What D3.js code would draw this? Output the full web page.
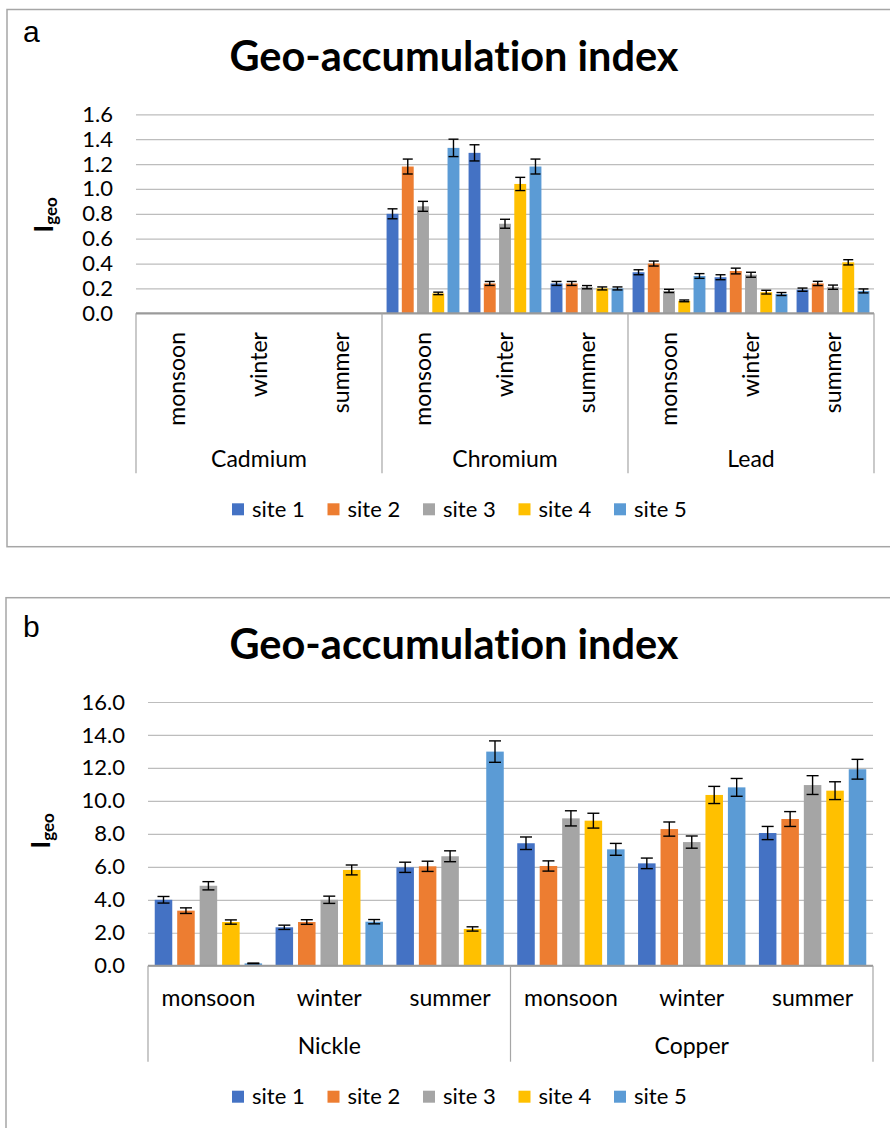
<!DOCTYPE html>
<html>
<head>
<meta charset="utf-8">
<script src="https://cdn.jsdelivr.net/npm/d3@7"></script>
<style>
  html, body { margin: 0; padding: 0; background: #fff; }
  svg { display: block; font-family: Lato, "Open Sans", sans-serif; font-variant-ligatures: none; font-feature-settings: "liga" 0, "clig" 0; }
</style>
</head>
<body>
<svg id="chart" width="890" height="1128"></svg>
<script>
// ---------------- DATA ----------------
const seasons = ["monsoon", "winter", "summer"];
const sites = ["site 1", "site 2", "site 3", "site 4", "site 5"];
const siteColors = ["#4472C4", "#ED7D31", "#A5A5A5", "#FFC000", "#5B9BD5"];

const metalsA = ["Cadmium", "Chromium", "Lead"];
const metalsB = ["Nickle", "Copper"];

// values[season][site]
const cadmium    = [[0, 0, 0, 0, 0], [0, 0, 0, 0, 0], [0, 0, 0, 0, 0]];
const cadmiumErr = [[0, 0, 0, 0, 0], [0, 0, 0, 0, 0], [0, 0, 0, 0, 0]];
const chromium    = [[0.80, 1.18, 0.86, 0.16, 1.33], [1.29, 0.24, 0.72, 1.04, 1.18], [0.24, 0.24, 0.21, 0.20, 0.20]];
const chromiumErr = [[0.04, 0.06, 0.04, 0.01, 0.07], [0.065, 0.016, 0.036, 0.053, 0.06], [0.016, 0.016, 0.013, 0.012, 0.012]];
const lead    = [[0.33, 0.40, 0.18, 0.10, 0.30], [0.29, 0.34, 0.31, 0.17, 0.155], [0.19, 0.24, 0.21, 0.41, 0.18]];
const leadErr = [[0.02, 0.02, 0.013, 0.007, 0.019], [0.02, 0.023, 0.02, 0.015, 0.012], [0.013, 0.017, 0.017, 0.021, 0.016]];
const nickle    = [[4.00, 3.34, 4.85, 2.65, 0.14], [2.33, 2.65, 4.00, 5.81, 2.67], [5.97, 6.03, 6.64, 2.23, 12.99]];
const nickleErr = [[0.20, 0.17, 0.25, 0.13, 0.02], [0.13, 0.14, 0.22, 0.30, 0.13], [0.31, 0.31, 0.33, 0.13, 0.65]];
const copper    = [[7.43, 6.05, 8.94, 8.80, 7.06], [6.21, 8.29, 7.50, 10.36, 10.82], [8.05, 8.90, 10.96, 10.62, 11.92]];
const copperErr = [[0.38, 0.31, 0.46, 0.45, 0.36], [0.32, 0.43, 0.37, 0.52, 0.54], [0.40, 0.45, 0.57, 0.54, 0.60]];

const yTicksA = [0, 0.2, 0.4, 0.6, 0.8, 1.0, 1.2, 1.4, 1.6];
const yTicksB = [0, 2, 4, 6, 8, 10, 12, 14, 16];

const titleText = "Geo-accumulation index";

// ---------------- DRAW ----------------
const svg = d3.select("#chart");

function buildRows(metals, vals, errs) {
  const rows = [];
  metals.forEach((m, mi) => {
    seasons.forEach((s, si) => {
      sites.forEach((st, ki) => {
        rows.push({ metal: m, season: s, site: st, k: ki, v: vals[mi][si][ki], e: errs[mi][si][ki] });
      });
    });
  });
  return rows;
}

function drawPanel(cfg) {
  const g = svg.append("g");

  // frame
  g.append("rect")
    .attr("x", cfg.frame.x).attr("y", cfg.frame.y)
    .attr("width", cfg.frame.w).attr("height", cfg.frame.h)
    .attr("fill", "none").attr("stroke", "#a6a6a6").attr("stroke-width", 1.5);

  // panel letter
  g.append("text").attr("x", 23).attr("y", cfg.letterY)
    .attr("font-family", "'Liberation Sans', Arial, sans-serif")
    .attr("font-size", 30).attr("fill", "#000").text(cfg.letter);

  // title
  g.append("text").attr("x", 454).attr("y", cfg.titleY)
    .attr("text-anchor", "middle").attr("font-size", 41.5).attr("font-weight", 700)
    .attr("fill", "#000").text(titleText);

  const y = d3.scaleLinear().domain([cfg.yTicks[0], cfg.yTicks[cfg.yTicks.length - 1]])
    .range([cfg.bottom, cfg.top]);
  const x0 = d3.scaleBand().domain(cfg.metals).range([cfg.left, cfg.right]).padding(0);
  const x1 = d3.scaleBand().domain(seasons).range([0, x0.bandwidth()]).padding(0);
  const x2 = d3.scaleBand().domain(sites).range([0, x1.bandwidth()])
    .paddingInner(0.22).paddingOuter(0.3);
  const color = d3.scaleOrdinal().domain(sites).range(siteColors);

  // gridlines
  const grid = g.append("g").attr("transform", `translate(${cfg.left},0)`)
    .call(d3.axisLeft(y).tickValues(cfg.yTicks).tickSize(-(cfg.right - cfg.left)).tickFormat(""));
  grid.select(".domain").remove();
  grid.selectAll("line").attr("stroke", "#bdbdbd").attr("stroke-width", 1.2);

  // tick labels
  const ax = g.append("g").attr("transform", `translate(${cfg.left},0)`)
    .call(d3.axisLeft(y).tickValues(cfg.yTicks).tickSize(0).tickPadding(cfg.tickPad)
      .tickFormat(d3.format(".1f")));
  ax.select(".domain").remove();
  ax.selectAll("text").attr("font-size", 22).attr("font-family", "Lato, sans-serif").attr("fill", "#000");

  // y title
  const yt = g.append("text")
    .attr("transform", `translate(${cfg.yLabelX},${cfg.yLabelY}) rotate(-90)`)
    .attr("text-anchor", "middle").attr("font-weight", 700).attr("fill", "#000");
  yt.append("tspan").attr("font-size", 27).text("I");
  yt.append("tspan").attr("font-size", 17).attr("dy", 4).text("geo");

  // bars
  const rows = buildRows(cfg.metals, cfg.vals, cfg.errs);
  const bx = d => x0(d.metal) + x1(d.season) + x2(d.site);
  g.append("g").selectAll("rect").data(rows.filter(d => d.v > 0)).join("rect")
    .attr("x", bx).attr("width", x2.bandwidth())
    .attr("y", d => y(d.v)).attr("height", d => y(0) - y(d.v))
    .attr("fill", d => color(d.site));

  // error bars
  const eb = g.append("g").selectAll("g").data(rows.filter(d => d.v > 0)).join("g")
    .attr("stroke", "#000").attr("stroke-width", 1.4);
  const cx = d => bx(d) + x2.bandwidth() / 2;
  eb.append("line").attr("x1", cx).attr("x2", cx)
    .attr("y1", d => y(d.v - d.e)).attr("y2", d => y(d.v + d.e));
  eb.append("line").attr("x1", d => cx(d) - cfg.cap).attr("x2", d => cx(d) + cfg.cap)
    .attr("y1", d => y(d.v + d.e)).attr("y2", d => y(d.v + d.e));
  eb.append("line").attr("x1", d => cx(d) - cfg.cap).attr("x2", d => cx(d) + cfg.cap)
    .attr("y1", d => y(d.v - d.e)).attr("y2", d => y(d.v - d.e));

  // category axis line
  g.append("line").attr("x1", cfg.left).attr("x2", cfg.right)
    .attr("y1", y(0)).attr("y2", y(0)).attr("stroke", "#9a9a9a").attr("stroke-width", 2);

  // group separators
  const seps = cfg.metals.map(m => x0(m)).concat([cfg.right]);
  g.append("g").selectAll("line").data(seps).join("line")
    .attr("x1", d => d).attr("x2", d => d)
    .attr("y1", y(0)).attr("y2", y(0) + cfg.catDepth)
    .attr("stroke", "#a6a6a6").attr("stroke-width", 1.2);

  // season labels
  const seasonRows = [];
  cfg.metals.forEach(m => seasons.forEach(s => seasonRows.push({ m, s })));
  const sl = g.append("g").selectAll("text").data(seasonRows).join("text")
    .attr("font-size", 23).attr("fill", "#000").text(d => d.s);
  if (cfg.rotateSeasons) {
    sl.attr("text-anchor", "end").attr("dy", "0.28em")
      .attr("transform", d => `translate(${x0(d.m) + x1(d.s) + x1.bandwidth() / 2 + 2},${cfg.seasonY}) rotate(-90)`);
  } else {
    sl.attr("text-anchor", "middle")
      .attr("x", d => x0(d.m) + x1(d.s) + x1.bandwidth() / 2).attr("y", cfg.seasonY);
  }

  // metal labels
  g.append("g").selectAll("text").data(cfg.metals).join("text")
    .attr("x", d => x0(d) + x0.bandwidth() / 2).attr("y", cfg.metalY)
    .attr("text-anchor", "middle").attr("font-size", 23).attr("fill", "#000").text(d => d);

  // legend
  const lg = g.append("g").selectAll("g").data(sites).join("g")
    .attr("transform", (d, i) => `translate(${232 + i * 95.5},${cfg.legendY})`);
  lg.append("rect").attr("x", 0).attr("y", -6).attr("width", 12).attr("height", 12)
    .attr("fill", d => color(d));
  lg.append("text").attr("x", 20).attr("y", 7.5).attr("font-size", 22).attr("fill", "#000").text(d => d);
}

drawPanel({
  frame: { x: 7, y: 9.5, w: 900, h: 537.2 },
  letter: "a", letterY: 42, titleY: 71,
  metals: metalsA, vals: [cadmium, chromium, lead], errs: [cadmiumErr, chromiumErr, leadErr],
  yTicks: yTicksA, left: 136, right: 874, top: 114.3, bottom: 313.3, tickPad: 23,
  yLabelX: 53, yLabelY: 215, cap: 5,
  catDepth: 160, rotateSeasons: true, seasonY: 332, metalY: 467, legendY: 509.3
});

drawPanel({
  frame: { x: 6, y: 597.7, w: 900, h: 600 },
  letter: "b", letterY: 637, titleY: 659,
  metals: metalsB, vals: [nickle, copper], errs: [nickleErr, copperErr],
  yTicks: yTicksB, left: 148, right: 873, top: 702, bottom: 965.7, tickPad: 23,
  yLabelX: 50, yLabelY: 831, cap: 6,
  catDepth: 96, rotateSeasons: false, seasonY: 1006, metalY: 1054, legendY: 1096.7
});
</script>
</body>
</html>
